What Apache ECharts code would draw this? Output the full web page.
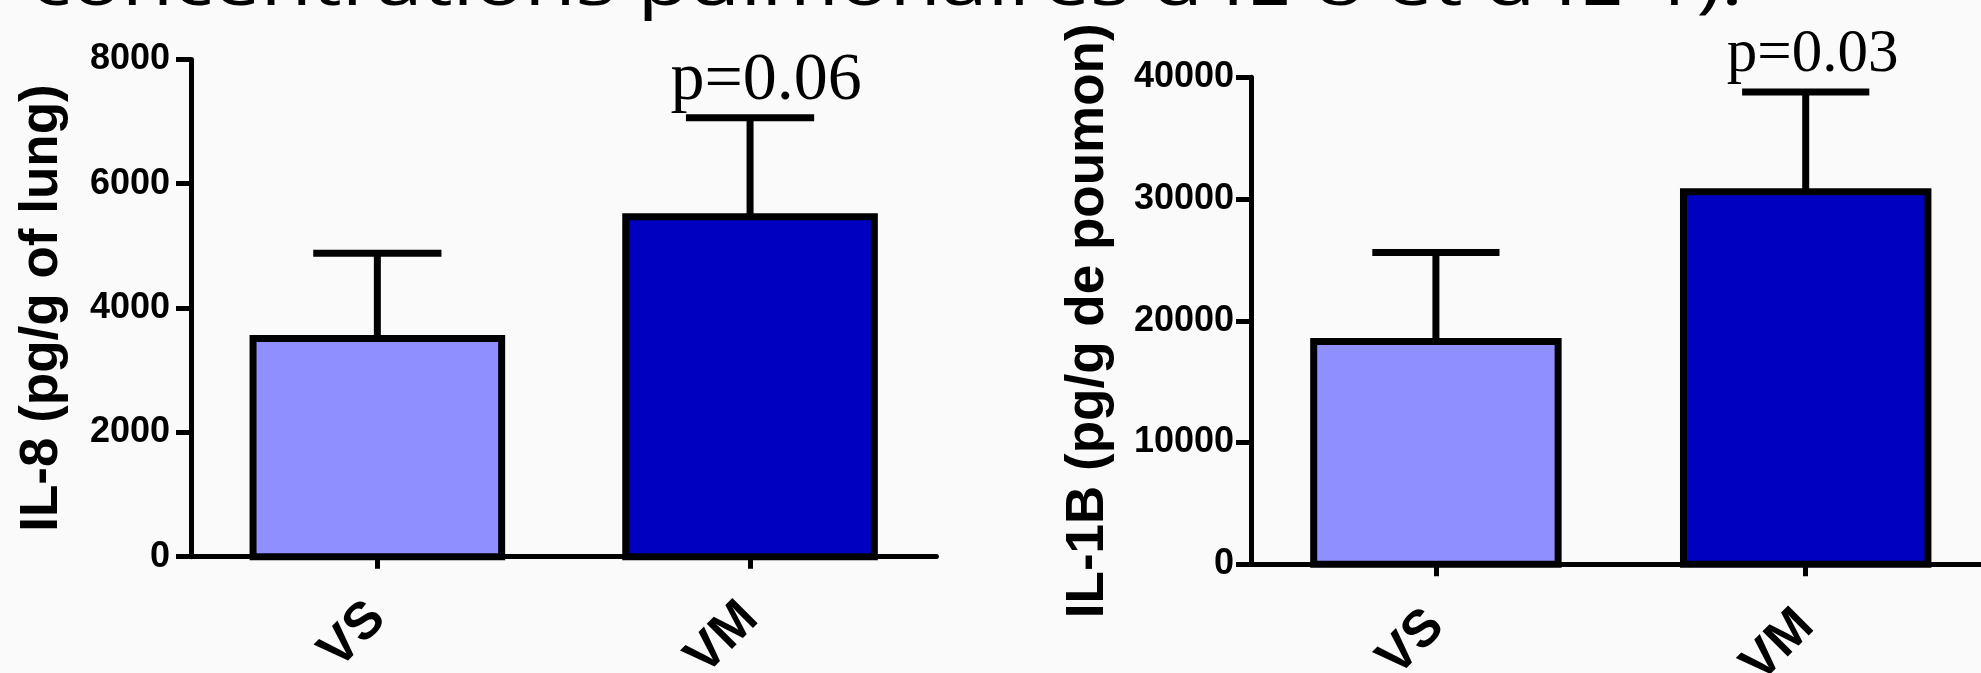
<!DOCTYPE html>
<html><head><meta charset="utf-8">
<script src="https://cdn.jsdelivr.net/npm/echarts/dist/echarts.min.js"></script>
<style>html,body{margin:0;padding:0;background:#fafafa;}#c{width:1981px;height:673px;}</style>
</head><body><div id="c"></div>
<script>
// ---- data ----
const categories = ['VS', 'VM'];
const il8Mean = [3510, 5470];
const il8Err = [1370, 1590];
const il1bMean = [18300, 30600];
const il1bErr = [7300, 8200];
const il8Ticks = [0, 2000, 4000, 6000, 8000];
const il1bTicks = [0, 10000, 20000, 30000, 40000];
const pLabelsIL8 = ['', 'p=0.06'];
const pLabelsIL1B = ['', 'p=0.03'];
const titleText = "concentrations pulmonaires d'IL-8 et d'IL-1).";
const yNameIL8 = 'IL-8 (pg/g of lung)';
const yNameIL1B = 'IL-1B (pg/g de poumon)';

// ---- styles ----
const barColors = ['#8F8FFF', '#0000C0'];
const SANS = '"Liberation Sans", Arial, sans-serif';
const SERIF = '"Liberation Serif", "Times New Roman", serif';
const LINE_W = 7;

const chart = echarts.init(document.getElementById('c'), null, {renderer: 'canvas'});

// outline of each bar (stroke centred on the value edge) + error bar + p label
function errRender(means, errs, pLabels, pSize, pDx, barFrac) {
  return function (params, api) {
    const i = api.value(0);
    const m = means[i], e = errs[i];
    const zero = api.coord([i, 0]);
    const base = api.coord([i, m]);
    const top = api.coord([i, m + e]);
    const band = api.size([1, 0])[0];
    const bw = band * barFrac;
    const hw = band * 0.172;
    const children = [
      {type: 'line', shape: {x1: base[0], y1: base[1], x2: top[0], y2: top[1]}, style: {stroke: '#000', lineWidth: LINE_W}},
      {type: 'line', shape: {x1: top[0] - hw, y1: top[1], x2: top[0] + hw, y2: top[1]}, style: {stroke: '#000', lineWidth: LINE_W}},
      {type: 'rect', shape: {x: base[0] - bw / 2, y: base[1], width: bw, height: zero[1] - base[1]},
        style: {fill: null, stroke: '#000', lineWidth: LINE_W, lineJoin: 'miter'}}
    ];
    if (pLabels[i]) {
      children.push({
        type: 'text',
        style: {
          text: pLabels[i], x: top[0] + pDx, y: top[1] - 37,
          font: pSize + 'px ' + SERIF, fill: '#000',
          align: 'center', verticalAlign: 'middle',
          textAlign: 'center', textVerticalAlign: 'middle'
        }
      });
    }
    return {type: 'group', children: children};
  };
}

function xAxisCfg(gridIndex) {
  return {
    type: 'category', gridIndex: gridIndex, data: categories,
    axisLine: {show: true, lineStyle: {color: '#000', width: 5}},
    axisTick: {show: true, alignWithLabel: true, length: 12, lineStyle: {color: '#000', width: 5}},
    axisLabel: {rotate: 45, margin: 54, color: '#000', fontSize: 52, fontWeight: 'bold', fontFamily: SANS},
    splitLine: {show: false}
  };
}
function yAxisCfg(gridIndex, ticks, name, gap, margin) {
  return {
    type: 'value', gridIndex: gridIndex,
    min: ticks[0], max: ticks[ticks.length - 1], interval: ticks[1] - ticks[0],
    name: name, nameLocation: 'middle', nameRotate: 90, nameGap: gap,
    nameTextStyle: {color: '#000', fontSize: 53, fontWeight: 'bold', fontFamily: SANS},
    axisLine: {show: true, lineStyle: {color: '#000', width: 5}},
    axisTick: {show: true, length: 15, lineStyle: {color: '#000', width: 5}},
    axisLabel: {margin: margin, color: '#000', fontSize: 36, fontWeight: 'bold', fontFamily: SANS,
      formatter: function (v) { return String(v); }},
    splitLine: {show: false}
  };
}

// title scale to match slide text width
const ctx = document.createElement('canvas').getContext('2d');
const titleFont = '66px "Open Sans", sans-serif';
ctx.font = titleFont;
const titleScale = 1712 / ctx.measureText(titleText).width;

const frac8 = 0.667, frac1b = 0.661;

chart.setOption({
  backgroundColor: '#fafafa',
  animation: false,
  grid: [
    {left: 191, top: 59.4, width: 745.4, height: 497.3, containLabel: false, outerBoundsMode: 'none'},
    {left: 1251, top: 77.3, width: 739.6, height: 487, containLabel: false, outerBoundsMode: 'none'}
  ],
  xAxis: [xAxisCfg(0), xAxisCfg(1)],
  yAxis: [yAxisCfg(0, il8Ticks, yNameIL8, 122, 21), yAxisCfg(1, il1bTicks, yNameIL1B, 136, 17)],
  graphic: [{
    type: 'text', x: 31, y: -14, scaleX: titleScale,
    style: {text: titleText, font: titleFont, fill: '#000', verticalAlign: 'middle', textVerticalAlign: 'middle'}
  }],
  series: [
    {
      type: 'bar', xAxisIndex: 0, yAxisIndex: 0, barWidth: (frac8 * 100) + '%',
      data: il8Mean.map((v, i) => ({value: v, itemStyle: {color: barColors[i]}})),
      itemStyle: {borderWidth: 0}
    },
    {
      type: 'bar', xAxisIndex: 1, yAxisIndex: 1, barWidth: (frac1b * 100) + '%',
      data: il1bMean.map((v, i) => ({value: v, itemStyle: {color: barColors[i]}})),
      itemStyle: {borderWidth: 0}
    },
    {
      type: 'custom', xAxisIndex: 0, yAxisIndex: 0, z: 5,
      renderItem: errRender(il8Mean, il8Err, pLabelsIL8, 68, 16, frac8),
      data: categories.map((c, i) => [i])
    },
    {
      type: 'custom', xAxisIndex: 1, yAxisIndex: 1, z: 5,
      renderItem: errRender(il1bMean, il1bErr, pLabelsIL1B, 61, 7, frac1b),
      data: categories.map((c, i) => [i])
    }
  ]
});
</script></body></html>
